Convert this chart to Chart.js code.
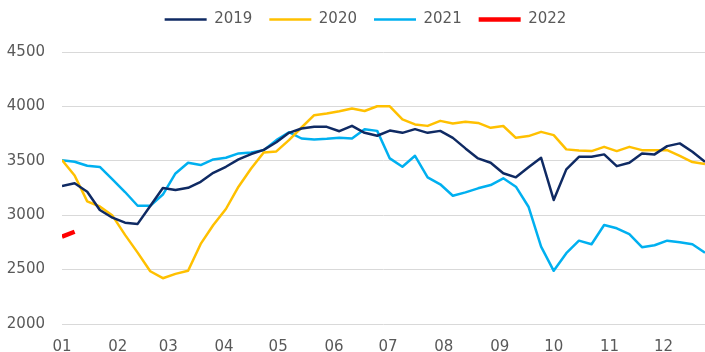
<!DOCTYPE html>
<html>
<head>
<meta charset="utf-8">
<script src="https://cdn.jsdelivr.net/npm/chart.js@4.4.1/dist/chart.umd.min.js"></script>
<style>
  html, body { margin: 0; padding: 0; background: #fff; }
  #chart { display: block; }
</style>
</head>
<body>
<canvas id="chart" width="705" height="352"></canvas>
<script>
// month ticks: label and day-of-year where the month starts
const monthLabels = ['01', '02', '03', '04', '05', '06', '07', '08', '09', '10', '11', '12'];
const monthStartDays = [0, 31, 59, 90, 120, 151, 181, 212, 243, 273, 304, 334];

// weekly values, one per week from the start of the year
const years = ['2019', '2020', '2021', '2022'];
const values2019 = [3268, 3293, 3216, 3048, 2977, 2931, 2920, 3085, 3250, 3231,
  3252, 3307, 3390, 3445, 3513, 3562, 3600, 3670, 3757, 3797,
  3812, 3812, 3772, 3821, 3757, 3730, 3778, 3757, 3791, 3757,
  3775, 3711, 3614, 3522, 3482, 3385, 3348, 3440, 3528, 3140,
  3421, 3537, 3537, 3559, 3451, 3482, 3568, 3559, 3635, 3660,
  3583, 3491];
const values2020 = [3506, 3365, 3127, 3080, 2996, 2819, 2656, 2485, 2421, 2461,
  2489, 2736, 2910, 3057, 3262, 3430, 3577, 3586, 3690, 3806,
  3919, 3935, 3956, 3980, 3958, 4001, 4001, 3880, 3834, 3821,
  3867, 3843, 3858, 3848, 3803, 3820, 3711, 3727, 3766, 3736,
  3605, 3595, 3589, 3628, 3589, 3628, 3598, 3598, 3598, 3546,
  3488, 3470];
const values2021 = [3506, 3491, 3454, 3444, 3330, 3213, 3087, 3086, 3190, 3384,
  3482, 3461, 3513, 3528, 3568, 3577, 3598, 3690, 3763, 3705,
  3696, 3702, 3711, 3705, 3791, 3775, 3522, 3445, 3546, 3348,
  3284, 3179, 3210, 3247, 3277, 3339, 3262, 3078, 2711, 2489,
  2651, 2766, 2733, 2910, 2880, 2825, 2706, 2724, 2766, 2752,
  2733, 2656];
const values2022 = [2803, 2848];

const yMin = 2000;
const yMax = 4500;
const yStep = 500;

const lineColors = ['#0F2A63', '#FFC000', '#00B0F0', '#FF0000'];
const lineWidths = [2.5, 2.5, 2.5, 4.5];

const toPoints = vals => vals.map((v, i) => ({ x: i * 7, y: v }));
const allValues = [values2019, values2020, values2021, values2022];

// fixed legend band height plus a small nudge of where it is drawn
const legendBox = {
  id: 'legendBox',
  beforeInit(chart) {
    const fit = chart.legend.fit;
    chart.legend.fit = function () {
      fit.call(this);
      this.height = 52;
    };
  },
  afterLayout(chart) {
    const l = chart.legend;
    l.left += 13;
    l.right += 13;
    l.top -= 5;
    l.bottom -= 5;
  }
};

Chart.defaults.font.family = '"DejaVu Sans", sans-serif';
Chart.defaults.font.size = 15;
Chart.defaults.color = '#595959';

new Chart(document.getElementById('chart'), {
  type: 'line',
  data: {
    datasets: years.map((year, idx) => ({
      label: year,
      data: toPoints(allValues[idx]),
      borderColor: lineColors[idx],
      backgroundColor: lineColors[idx],
      borderWidth: lineWidths[idx],
      borderJoinStyle: 'round',
      pointRadius: 0,
      pointStyle: 'line',
      tension: 0,
      fill: false
    }))
  },
  options: {
    responsive: false,
    animation: false,
    layout: { padding: 0 },
    plugins: {
      legend: {
        position: 'top',
        labels: {
          usePointStyle: true,
          pointStyleWidth: 42,
          padding: 17,
          color: '#595959'
        }
      },
      tooltip: { enabled: false }
    },
    scales: {
      x: {
        type: 'linear',
        min: 0,
        max: (values2019.length - 1) * 7,
        grid: { display: false },
        border: { display: false },
        afterBuildTicks: scale => {
          scale.ticks = monthStartDays.map(d => ({ value: d }));
        },
        afterFit: scale => { scale.height = 28; },
        ticks: {
          autoSkip: false,
          maxRotation: 0,
          padding: 6,
          callback: (value, index) => monthLabels[index]
        }
      },
      y: {
        min: yMin,
        max: yMax,
        grid: { color: '#D9D9D9', lineWidth: 1, drawTicks: false },
        border: { display: false },
        afterFit: scale => { scale.width = 62; },
        ticks: {
          stepSize: yStep,
          padding: 17,
          callback: value => String(value)
        }
      }
    }
  },
  plugins: [legendBox]
});
</script>
</body>
</html>
